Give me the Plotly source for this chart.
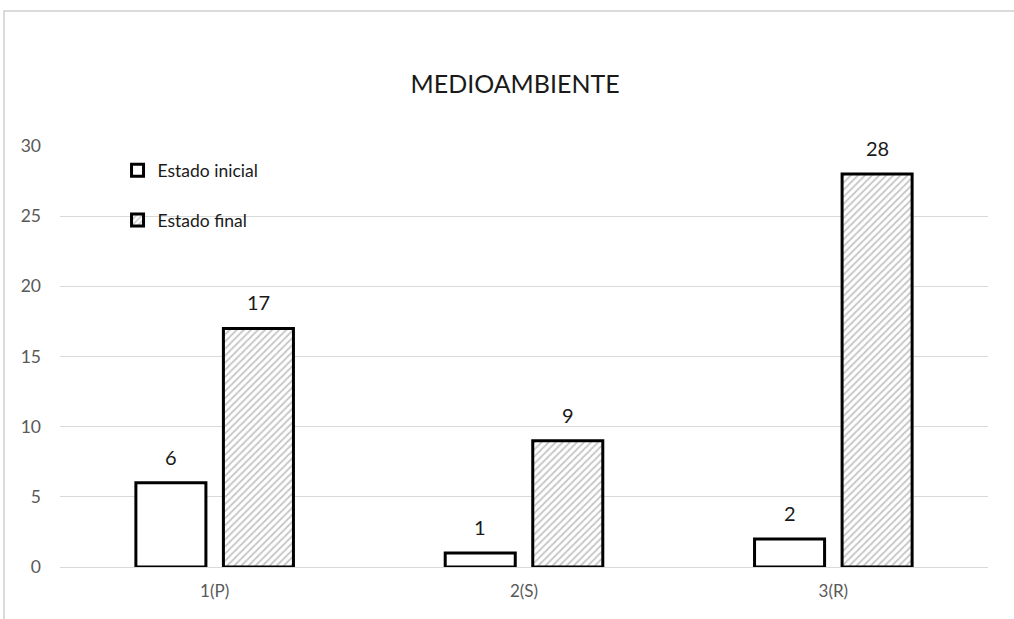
import plotly.graph_objects as go

categorias = ["1(P)", "2(S)", "3(R)"]
estado_inicial = [6, 1, 2]
estado_final = [17, 9, 28]

FONT = "Lato, 'Open Sans', sans-serif"
BAR_SHIFT = 43.75  # px between group centre and each bar centre

fig = go.Figure()
fig.add_trace(go.Bar(
    name="Estado inicial", x=categorias, y=estado_inicial,
    marker=dict(color="white", line=dict(color="black", width=3)),
    legendgroup="a",
))
fig.add_trace(go.Bar(
    name="Estado final", x=categorias, y=estado_final,
    marker=dict(color="white", line=dict(color="black", width=3),
                pattern=dict(shape="/", fgcolor="#8c8c8c", bgcolor="white",
                             size=5, solidity=0.35)),
    legendgroup="b",
))

# value labels above each bar
annotations = []
for serie, shift in ((estado_inicial, -BAR_SHIFT), (estado_final, BAR_SHIFT)):
    for cat, val in zip(categorias, serie):
        annotations.append(dict(
            x=cat, y=val, xref="x", yref="y", text=str(val), showarrow=False,
            xshift=shift, yshift=12, yanchor="bottom",
            font=dict(family=FONT, size=20, color="#1a1a1a"),
        ))

fig.update_layout(
    width=1014, height=619,
    margin=dict(l=60, r=26, t=146, b=52),
    paper_bgcolor="white", plot_bgcolor="white",
    barmode="group", bargap=0.434, bargroupgap=0.2,
    title=dict(text="MEDIOAMBIENTE", x=0.508, xanchor="center",
               y=1 - 84 / 619, yanchor="middle",
               font=dict(family=FONT, size=25, color="#1a1a1a")),
    font=dict(family=FONT, color="#595959", size=17),
    showlegend=True,
    legend=dict(x=0.062, y=0.985, xanchor="left", yanchor="top",
                bgcolor="rgba(0,0,0,0)", tracegroupgap=24,
                font=dict(family=FONT, size=17.5, color="#1a1a1a"),
                itemwidth=30),
    xaxis=dict(showgrid=False, showline=False, ticks="",
               tickfont=dict(size=17, color="#595959"),
               ticklabelstandoff=12),
    yaxis=dict(range=[0, 30], dtick=5, showgrid=True, gridcolor="#d9d9d9",
               gridwidth=1, zeroline=True, zerolinecolor="#d9d9d9",
               zerolinewidth=1, showline=False, ticks="",
               tickfont=dict(size=17.5, color="#595959"), ticklabelstandoff=18),
    annotations=annotations,
    shapes=[dict(type="rect", xref="paper", yref="paper",
                 x0=(4 - 60) / 928, x1=(1030 - 60) / 928,
                 y0=-0.3, y1=(567 - 11) / 421,
                 line=dict(color="#d0d0d0", width=1.5), layer="below")],
)

fig.write_html("out.html")
